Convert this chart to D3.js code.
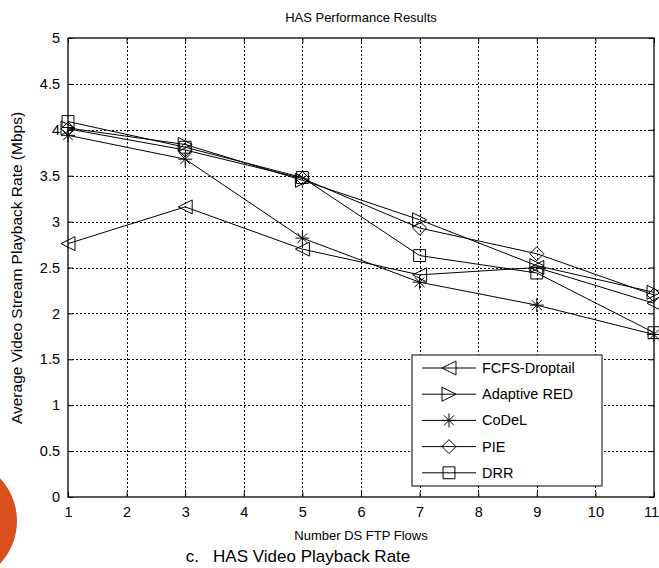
<!DOCTYPE html>
<meta charset="utf-8">
<style>
body { margin: 0; background: #fff; }
svg { font-family: "Liberation Sans", Arial, sans-serif; }
.grid line { stroke: #000; stroke-dasharray: 2,2; stroke-width: 1; }
.series-line { fill: none; stroke: #000; stroke-width: 1; }
.marker { fill: none; stroke: #000; stroke-width: 1; }
</style>
<svg width="659" height="568"></svg>
<script src="https://d3js.org/d3.v7.min.js"></script>
<script>

var flows = [1, 3, 5, 7, 9, 11];
var seriesNames = ["FCFS-Droptail", "Adaptive RED", "CoDeL", "PIE", "DRR"];
var fcfs  = [2.76, 3.16, 2.70, 2.42, 2.50, 2.11];
var ared  = [4.02, 3.84, 3.45, 3.02, 2.52, 2.23];
var codel = [3.94, 3.68, 2.82, 2.34, 2.09, 1.77];
var pie   = [4.01, 3.78, 3.47, 2.93, 2.65, 2.20];
var drr   = [4.09, 3.81, 3.48, 2.63, 2.44, 1.79];
var xTicks = [1, 2, 3, 4, 5, 6, 7, 8, 9, 10, 11];
var yTicks = [0, 0.5, 1, 1.5, 2, 2.5, 3, 3.5, 4, 4.5, 5];

var series = [fcfs, ared, codel, pie, drr];
var markers = ["ltri", "rtri", "star", "diamond", "square"];

var svg = d3.select("svg");

// orange decoration at the bottom-left
svg.append("circle")
    .attr("cx", -45).attr("cy", 521).attr("r", 62)
    .attr("fill", "#d9501e");

var pLeft = 68, pRight = 654, pTop = 38, pBottom = 497;

var x = d3.scaleLinear().domain([1, 11]).range([pLeft, pRight]);
var y = d3.scaleLinear().domain([0, 5]).range([pBottom, pTop]);

// grid
var grid = svg.append("g").attr("class", "grid");
grid.selectAll(".gx")
  .data(xTicks.slice(1, -1))
  .enter().append("line")
    .attr("x1", function(d) { return Math.round(x(d)) + 0.5; })
    .attr("x2", function(d) { return Math.round(x(d)) + 0.5; })
    .attr("y1", pTop).attr("y2", pBottom);
grid.selectAll(".gy")
  .data(yTicks.slice(1, -1))
  .enter().append("line")
    .attr("y1", function(d) { return Math.round(y(d)) + 0.5; })
    .attr("y2", function(d) { return Math.round(y(d)) + 0.5; })
    .attr("x1", pLeft).attr("x2", pRight);

// axes with inward ticks, mirrored on top/right
var fmt = function(d) { return String(d); };
var xAxisG = svg.append("g")
    .attr("transform", "translate(0," + pBottom + ")")
    .call(d3.axisBottom(x).tickValues(xTicks).tickFormat(fmt).tickSizeInner(-5).tickSizeOuter(0).tickPadding(10))
    .call(function(g) { g.select(".domain").remove(); });
svg.append("g")
    .attr("transform", "translate(0," + pTop + ")")
    .call(d3.axisTop(x).tickValues(xTicks).tickFormat("").tickSizeInner(-5).tickSizeOuter(0))
    .call(function(g) { g.select(".domain").remove(); });
svg.append("g")
    .attr("transform", "translate(" + pLeft + ",0)")
    .call(d3.axisLeft(y).tickValues(yTicks).tickFormat(fmt).tickSizeInner(-5).tickSizeOuter(0).tickPadding(8))
    .call(function(g) { g.select(".domain").remove(); });
svg.append("g")
    .attr("transform", "translate(" + pRight + ",0)")
    .call(d3.axisRight(y).tickValues(yTicks).tickFormat("").tickSizeInner(-5).tickSizeOuter(0))
    .call(function(g) { g.select(".domain").remove(); });

svg.selectAll(".tick text").attr("font-size", 14.5).attr("fill", "#000")
    .attr("font-family", "Liberation Sans, Arial, sans-serif");
// keep the last x label inside the window
xAxisG.selectAll(".tick text").filter(function(d) { return d === 11; })
    .attr("dx", -3);

svg.append("rect")
    .attr("x", pLeft).attr("y", pTop)
    .attr("width", pRight - pLeft).attr("height", pBottom - pTop)
    .attr("fill", "none").attr("stroke", "#000").attr("stroke-width", 1.3);

// marker shapes
function markerPath(type, h) {
  switch (type) {
    case "ltri": return "M" + (-h) + ",0L" + h + "," + (-h) + "L" + h + "," + h + "Z";
    case "rtri": return "M" + h + ",0L" + (-h) + "," + (-h) + "L" + (-h) + "," + h + "Z";
    case "diamond": return "M0," + (-h) + "L" + h + ",0L0," + h + "L" + (-h) + ",0Z";
    case "square": var q = h * 0.85; return "M" + (-q) + "," + (-q) + "H" + q + "V" + q + "H" + (-q) + "Z";
    case "star":
      var p = "";
      for (var i = 0; i < 4; i++) {
        var a = i * Math.PI / 4;
        p += "M" + (-h * Math.cos(a)) + "," + (-h * Math.sin(a)) + "L" + (h * Math.cos(a)) + "," + (h * Math.sin(a));
      }
      return p;
  }
}

var line = d3.line()
    .x(function(d, i) { return x(flows[i]); })
    .y(function(d) { return y(d); });

series.forEach(function(vals, k) {
  var g = svg.append("g");
  g.append("path").attr("class", "series-line").attr("d", line(vals));
  g.selectAll("path.marker")
    .data(vals)
    .enter().append("path")
      .attr("class", "marker")
      .attr("transform", function(d, i) { return "translate(" + x(flows[i]) + "," + y(d) + ")"; })
      .attr("d", markerPath(markers[k], 7));
});

// legend
var legend = svg.append("g").attr("transform", "translate(412,355)");
legend.append("rect")
    .attr("width", 190).attr("height", 131)
    .attr("fill", "#fff").attr("stroke", "#000");
var item = legend.selectAll(".item")
  .data(seriesNames)
  .enter().append("g")
    .attr("transform", function(d, i) { return "translate(0," + (13 + i * 26.2) + ")"; });
item.append("line").attr("x1", 10).attr("x2", 64).attr("stroke", "#000");
item.append("path").attr("class", "marker")
    .attr("transform", "translate(37,0)")
    .attr("d", function(d, i) { return markerPath(markers[i], 7); });
item.append("text").attr("x", 70).attr("dy", "0.35em")
    .attr("font-size", 14.5).text(function(d) { return d; });

// titles
svg.append("text").attr("x", 361).attr("y", 22).attr("text-anchor", "middle")
    .attr("font-size", 13).text("HAS Performance Results");
svg.append("text").attr("x", 361).attr("y", 540).attr("text-anchor", "middle")
    .attr("font-size", 13).text("Number DS FTP Flows");
svg.append("text").attr("x", 298).attr("y", 562).attr("text-anchor", "middle")
    .attr("font-size", 17).text("c.\u00a0\u00a0 HAS Video Playback Rate");
svg.append("text")
    .attr("transform", "translate(22,268) rotate(-90)")
    .attr("text-anchor", "middle")
    .attr("font-size", 15.5).text("Average Video Stream Playback Rate (Mbps)");

</script>
